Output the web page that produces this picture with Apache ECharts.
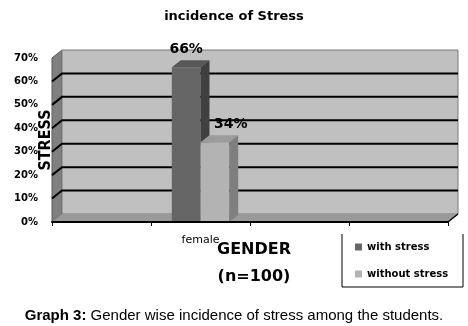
<!DOCTYPE html>
<html>
<head>
<meta charset="utf-8">
<script src="https://cdn.jsdelivr.net/npm/echarts@6/dist/echarts.min.js"></script>
<style>
  html, body { margin: 0; padding: 0; background: #fff; }
  #chart { width: 468px; height: 326px; }
</style>
</head>
<body>
<div id="chart"></div>
<script>
const categories = ['', 'female', '', ''];
const withStress = [null, 66, null, null];
const withoutStress = [null, 34, null, null];
const yTicks = [0, 10, 20, 30, 40, 50, 60, 70];
const seriesNames = ['with stress', 'without stress'];

// front, top, side
const barColors = [
  ['#666666', '#575757', '#404040'],
  ['#b3b3b3', '#9c9c9c', '#7f7f7f']
];
const labelShift = [0, 16];
const wallDepth = [10, -8];
const barDepth = [9, -7];

const chart = echarts.init(document.getElementById('chart'));

function toData(values) {
  return values.map((v, i) => [i, v]).filter((d) => d[1] != null);
}

// back wall, side wall, floor and gridlines of the 3d box
function renderWalls(params, api) {
  const cs = params.coordSys;
  const [dx, dy] = wallDepth;
  const x0 = cs.x;
  const x1 = cs.x + cs.width;
  const yb = api.coord([0, yTicks[0]])[1];
  const yt = api.coord([0, yTicks[yTicks.length - 1]])[1];
  const children = [
    {
      type: 'polygon',
      shape: { points: [[x0, yb], [x0 + dx, yb + dy], [x0 + dx, yt + dy], [x0, yt]] },
      style: { fill: '#808080', stroke: '#5a5a5a', lineWidth: 1 }
    },
    {
      type: 'rect',
      shape: { x: x0 + dx, y: yt + dy, width: x1 - x0, height: yb - yt },
      style: { fill: '#c0c0c0', stroke: '#7a7a7a', lineWidth: 1 }
    },
    {
      type: 'polygon',
      shape: { points: [[x0, yb], [x1, yb], [x1 + dx, yb + dy], [x0 + dx, yb + dy]] },
      style: { fill: '#9a9a9a' }
    },
    {
      type: 'line',
      shape: { x1: x1, y1: yb, x2: x1 + dx, y2: yb + dy },
      style: { stroke: '#000', lineWidth: 1.5 }
    }
  ];
  yTicks.slice(1, -1).forEach((t) => {
    const y = api.coord([0, t])[1];
    children.push({
      type: 'polyline',
      shape: { points: [[x0, y], [x0 + dx, y + dy], [x1 + dx, y + dy]] },
      style: { stroke: '#000', lineWidth: 2, fill: null }
    });
  });
  return { type: 'group', children };
}

function makeBarRenderer(s) {
  return function (params, api) {
    const [cx, yTop] = api.coord([api.value(0), api.value(1)]);
    const yBase = api.coord([api.value(0), 0])[1];
    const bw = api.size([1, 0])[0] * 0.29;
    const x = s === 0 ? cx - bw : cx;
    const [dx, dy] = barDepth;
    const c = barColors[s];
    return {
      type: 'group',
      children: [
        {
          type: 'rect',
          shape: { x: x, y: yTop, width: bw, height: yBase - yTop },
          style: { fill: c[0] }
        },
        {
          type: 'polygon',
          shape: { points: [[x, yTop], [x + bw, yTop], [x + bw + dx, yTop + dy], [x + dx, yTop + dy]] },
          style: { fill: c[1] }
        },
        {
          type: 'polygon',
          shape: { points: [[x + bw, yTop], [x + bw + dx, yTop + dy], [x + bw + dx, yBase + dy], [x + bw, yBase]] },
          style: { fill: c[2] }
        },
        {
          type: 'text',
          style: {
            text: api.value(1) + '%',
            x: x + bw / 2 + labelShift[s],
            y: yTop + dy - 4,
            align: 'center',
            verticalAlign: 'bottom',
            font: 'bold 14px "DejaVu Sans"',
            fill: '#000'
          }
        }
      ]
    };
  };
}

const option = {
  backgroundColor: '#fff',
  animation: false,
  title: {
    text: 'incidence of Stress',
    left: 'center',
    top: 5,
    textStyle: { fontFamily: 'DejaVu Sans', fontWeight: 'bold', fontSize: 13, color: '#000' }
  },
  legend: {
    data: seriesNames,
    orient: 'vertical',
    left: 355,
    top: 241,
    padding: 0,
    itemWidth: 7,
    itemHeight: 7,
    itemGap: 15,
    icon: 'rect',
    textStyle: { fontFamily: 'DejaVu Sans', fontWeight: 'bold', fontSize: 10, lineHeight: 12, color: '#000' }
  },
  grid: { left: 52, right: 20, top: 58, bottom: 104, outerBoundsMode: 'none' },
  xAxis: {
    type: 'category',
    data: categories,
    z: 3,
    name: 'GENDER\n(n=100)',
    nameLocation: 'middle',
    nameGap: 14,
    nameMoveOverlap: false,
    nameTextStyle: {
      fontFamily: 'DejaVu Sans', fontWeight: 'bold', fontSize: 16, lineHeight: 27,
      color: '#000', padding: [0, 0, 0, 8]
    },
    axisLine: { lineStyle: { color: '#000', width: 2 } },
    axisTick: { show: true, length: 4, alignWithLabel: false, interval: 0, lineStyle: { color: '#000' } },
    axisLabel: { interval: 0, margin: 13, fontFamily: 'DejaVu Sans', fontSize: 11, color: '#000' },
    splitLine: { show: false }
  },
  yAxis: {
    type: 'value',
    min: 0,
    max: 70,
    interval: 10,
    z: 3,
    name: 'STRESS',
    nameLocation: 'middle',
    nameRotate: 90,
    nameGap: -2,
    nameMoveOverlap: false,
    nameTextStyle: { fontFamily: '"Liberation Sans Narrow", "DejaVu Sans Condensed", sans-serif', fontWeight: 'bold', fontSize: 16, color: '#000' },
    axisLine: { show: false },
    axisTick: { show: false },
    splitLine: { show: false },
    axisLabel: { formatter: '{value}%', margin: 14, fontFamily: 'DejaVu Sans', fontWeight: 'bold', fontSize: 10, color: '#000' }
  },
  graphic: [
    {
      type: 'polyline',
      shape: { points: [[342, 234], [342, 287], [463, 287], [463, 234]] },
      style: { stroke: '#000', lineWidth: 1, fill: null }
    },
    {
      type: 'text',
      left: 'center',
      top: 308,
      style: {
        text: '{b|Graph 3:} Gender wise incidence of stress among the students.',
        font: '15px "Liberation Sans", Arial, sans-serif',
        fill: '#000',
        rich: { b: { fontWeight: 'bold', fontSize: 15, fontFamily: 'Liberation Sans' } }
      }
    }
  ],
  series: [
    {
      name: 'walls',
      type: 'custom',
      z: 1,
      silent: true,
      clip: false,
      renderItem: renderWalls,
      data: [[0, 0]]
    },
    {
      name: seriesNames[0],
      type: 'custom',
      z: 2,
      clip: false,
      itemStyle: { color: barColors[0][0] },
      renderItem: makeBarRenderer(0),
      encode: { x: 0, y: 1 },
      data: toData(withStress)
    },
    {
      name: seriesNames[1],
      type: 'custom',
      z: 2,
      clip: false,
      itemStyle: { color: barColors[1][0] },
      renderItem: makeBarRenderer(1),
      encode: { x: 0, y: 1 },
      data: toData(withoutStress)
    }
  ]
};

chart.setOption(option);
</script>
</body>
</html>
